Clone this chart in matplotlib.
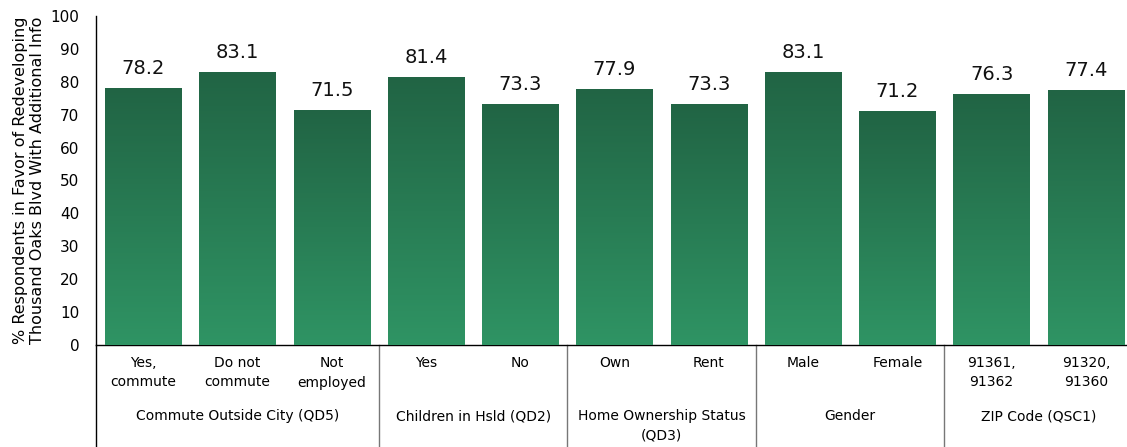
import numpy as np
import matplotlib.pyplot as plt
from matplotlib.colors import LinearSegmentedColormap

# survey breakdown: % in favor of redeveloping Thousand Oaks Blvd
categories = ["Yes,\ncommute", "Do not\ncommute", "Not\nemployed",
              "Yes", "No",
              "Own", "Rent",
              "Male", "Female",
              "91361,\n91362", "91320,\n91360"]
values = [78.2, 83.1, 71.5, 81.4, 73.3, 77.9, 73.3, 83.1, 71.2, 76.3, 77.4]
groups = ["Commute Outside City (QD5)", "Children in Hsld (QD2)",
          "Home Ownership Status\n(QD3)", "Gender", "ZIP Code (QSC1)"]
group_sizes = [3, 2, 2, 2, 2]

fig = plt.figure(figsize=(11.27, 4.47), dpi=100)
ax = fig.add_axes([96 / 1127, 102 / 447, 1037 / 1127, 329 / 447])

x = np.arange(len(values))
bars = ax.bar(x, values, width=0.81, color="#2a7d55", zorder=2)

# vertical gradient: dark green at the top, lighter at the bottom
cmap = LinearSegmentedColormap.from_list("grn", ["#2f9464", "#216444"])
grad = np.linspace(0, 1, 256).reshape(-1, 1)
for b in bars:
    x0, w, h = b.get_x(), b.get_width(), b.get_height()
    im = ax.imshow(grad, cmap=cmap, aspect="auto", origin="lower",
                   extent=[x0, x0 + w, 0, h], zorder=3)
    im.set_clip_path(b)
    ax.text(x0 + w / 2, h + 3, f"{h:.1f}", ha="center", va="bottom",
            fontsize=14, color="#111111")

ax.set_xlim(-0.5, len(values) - 0.5)
ax.set_ylim(0, 100)
ax.set_yticks(np.arange(0, 101, 10))
ax.tick_params(axis="y", length=0, pad=12, labelsize=11)
ax.set_xticks([])
for s in ["top", "right"]:
    ax.spines[s].set_visible(False)
ax.spines["left"].set_linewidth(1.0)
ax.spines["bottom"].set_linewidth(1.0)

ax.set_ylabel("% Respondents in Favor of Redeveloping\nThousand Oaks Blvd With Additional Info",
              fontsize=11.5, labelpad=4, linespacing=1.2)

# category labels under each bar
for xi, lab in zip(x, categories):
    ax.annotate(lab, xy=(xi, 0), xycoords=("data", "axes fraction"),
                xytext=(0, -11), textcoords="offset pixels",
                ha="center", va="top", fontsize=10, linespacing=1.5)

# group labels and separators
bottom = -102 / 329
ax.plot([-0.5, -0.5], [0, bottom], color="black", lw=1.0,
        transform=ax.get_xaxis_transform(), clip_on=False)
start = 0
for g, n in zip(groups, group_sizes):
    center = start + (n - 1) / 2
    ax.annotate(g, xy=(center, 0), xycoords=("data", "axes fraction"),
                xytext=(0, -64), textcoords="offset pixels",
                ha="center", va="top", fontsize=10, linespacing=1.5)
    start += n
    if start < len(values):
        ax.plot([start - 0.5, start - 0.5], [0, bottom], color="#777777",
                lw=1.0, transform=ax.get_xaxis_transform(), clip_on=False)

fig.savefig("out.png", dpi=100)
